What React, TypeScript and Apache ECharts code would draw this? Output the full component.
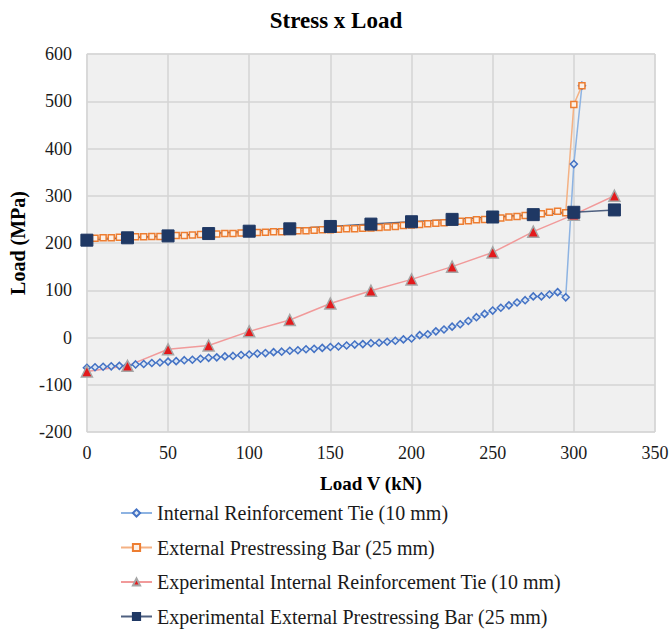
import React, { useEffect, useRef } from "react";
import * as echarts from "echarts";

const titleText = "Stress x Load";
const xAxisName = "Load V (kN)";
const yAxisName = "Load (MPa)";

const seriesNames = [
  "Internal Reinforcement Tie (10 mm)",
  "External Prestressing Bar (25 mm)",
  "Experimental Internal Reinforcement Tie (10 mm)",
  "Experimental External Prestressing Bar (25 mm)",
];

// Model results, sampled every 5 kN
const modelLoads = [
  0, 5, 10, 15, 20, 25, 30, 35, 40, 45, 50, 55, 60, 65, 70, 75, 80, 85, 90, 95,
  100, 105, 110, 115, 120, 125, 130, 135, 140, 145, 150, 155, 160, 165, 170, 175,
  180, 185, 190, 195, 200, 205, 210, 215, 220, 225, 230, 235, 240, 245, 250, 255,
  260, 265, 270, 275, 280, 285, 290, 295, 300, 305,
];

const internalTie = [
  -64, -63, -62, -61, -60, -59, -57, -56, -54, -53, -51, -50, -48, -47, -45, -43,
  -42, -40, -39, -37, -36, -34, -33, -31, -30, -28, -27, -25, -24, -22, -20, -19,
  -17, -15, -14, -12, -11, -9, -7, -4, -2, 5, 7, 13, 17, 23, 28, 35, 43, 50, 57,
  63, 68, 74, 79, 87, 87, 91, 96, 85, 367, 533,
];

const externalBar = [
  210, 210, 211, 211, 212, 212, 213, 213, 214, 214, 215, 216, 216, 217, 218, 218,
  219, 220, 220, 221, 222, 222, 223, 224, 224, 225, 226, 226, 227, 228, 228, 229,
  230, 230, 231, 232, 233, 234, 235, 237, 238, 239, 241, 242, 243, 245, 246, 247,
  249, 250, 252, 253, 255, 256, 258, 259, 262, 265, 267, 264, 493, 533,
];

// Experimental results, every 25 kN
const expLoads = [0, 25, 50, 75, 100, 125, 150, 175, 200, 225, 250, 275, 300, 325];
const expInternalTie = [-72, -60, -25, -17, 13, 37, 72, 99, 123, 150, 180, 224, 260, 300];
const expExternalBar = [206, 211, 215, 220, 225, 230, 235, 240, 245, 250, 255, 260, 265, 270];

const FONT = "Liberation Serif";

function zip(xs: number[], ys: number[]) {
  return xs.map((x, i) => [x, ys[i]]);
}

export default function App() {
  const ref = useRef<HTMLDivElement>(null);

  useEffect(() => {
    if (!ref.current) return;
    const chart = echarts.init(ref.current, undefined, { renderer: "svg" });
    chart.setOption({
      animation: false,
      backgroundColor: "#ffffff",
      textStyle: { fontFamily: FONT },
      title: {
        text: titleText,
        left: "center",
        top: 4,
        textStyle: { fontFamily: FONT, fontSize: 23, fontWeight: "bold", color: "#000" },
      },
      grid: {
        left: 86,
        right: 17,
        top: 54,
        bottom: 198,
        show: true,
        backgroundColor: "#f0f0f0",
        borderColor: "#d9d9d9",
        borderWidth: 1,
      },
      legend: {
        orient: "vertical",
        left: 120,
        top: 503,
        height: 127,
        padding: 0,
        itemWidth: 31,
        itemHeight: 9,
        itemGap: 14.5,
        textStyle: { fontFamily: FONT, fontSize: 20, lineHeight: 20, color: "#1a1a1a" },
        data: seriesNames,
      },
      xAxis: {
        type: "value",
        min: 0,
        max: 350,
        interval: 50,
        name: xAxisName,
        nameLocation: "middle",
        nameGap: 42,
        nameTextStyle: { fontFamily: FONT, fontSize: 19, fontWeight: "bold", color: "#000" },
        axisLine: { show: false },
        axisTick: { show: false },
        axisLabel: { fontFamily: FONT, fontSize: 18, color: "#1a1a1a", margin: 12 },
        splitLine: { show: true, lineStyle: { color: "#d4d4d4", width: 1.5 } },
      },
      yAxis: {
        type: "value",
        min: -200,
        max: 600,
        interval: 100,
        name: yAxisName,
        nameLocation: "middle",
        nameGap: 58,
        nameTextStyle: { fontFamily: FONT, fontSize: 20, fontWeight: "bold", color: "#000" },
        axisLine: { show: false },
        axisTick: { show: false },
        axisLabel: { fontFamily: FONT, fontSize: 18, color: "#1a1a1a", margin: 15 },
        splitLine: { show: true, lineStyle: { color: "#d4d4d4", width: 1.5 } },
      },
      series: [
        {
          name: seriesNames[0],
          type: "line",
          data: zip(modelLoads, internalTie),
          symbol: "diamond",
          symbolSize: 7,
          lineStyle: { color: "#8db3e2", width: 1.5 },
          itemStyle: { color: "#dce6f2", borderColor: "#4472c4", borderWidth: 1.5 },
        },
        {
          name: seriesNames[1],
          type: "line",
          data: zip(modelLoads, externalBar),
          symbol: "rect",
          symbolSize: 6,
          lineStyle: { color: "#f4b183", width: 1.5 },
          itemStyle: { color: "#fdf0e6", borderColor: "#ed7d31", borderWidth: 1.5 },
        },
        {
          name: seriesNames[2],
          type: "line",
          data: zip(expLoads, expInternalTie),
          symbol: "triangle",
          symbolSize: 11,
          lineStyle: { color: "#f19a9a", width: 1.5 },
          itemStyle: { color: "#e31a1c", borderColor: "#a6a6a6", borderWidth: 1.5 },
        },
        {
          name: seriesNames[3],
          type: "line",
          data: zip(expLoads, expExternalBar),
          symbol: "rect",
          symbolSize: 12,
          lineStyle: { color: "#4f6080", width: 1.5 },
          itemStyle: { color: "#1f3864", borderColor: "#1f3864", borderWidth: 1 },
        },
      ],
    });
    return () => chart.dispose();
  }, []);

  return (
    <div
      ref={ref}
      style={{ position: "fixed", left: 0, top: 0, width: 672, height: 630, background: "#fff" }}
    />
  );
}
